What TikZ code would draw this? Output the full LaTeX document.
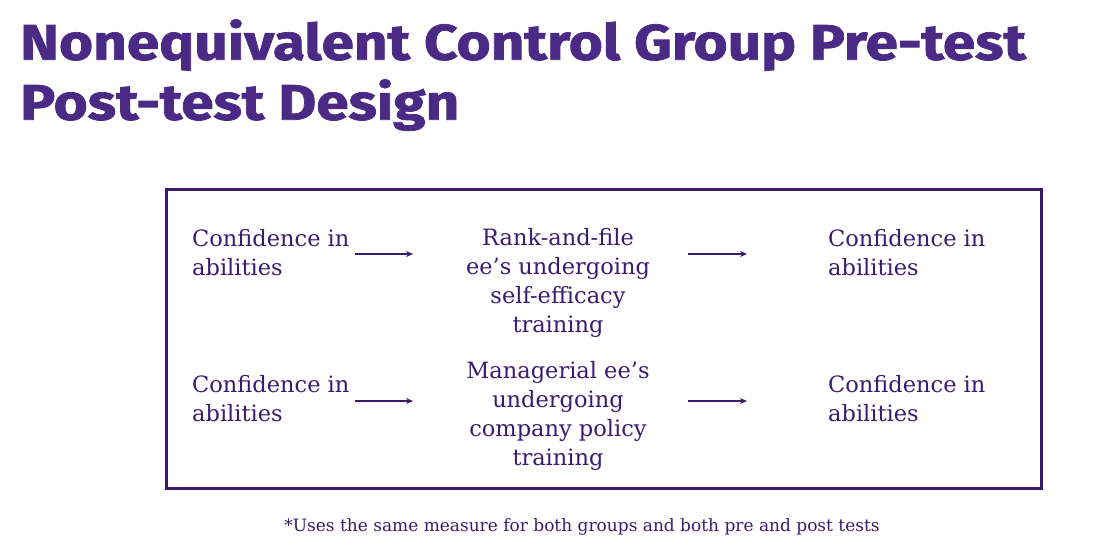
\documentclass[tikz,border=0pt]{standalone}
\usepackage{fontspec}
\usetikzlibrary{arrows.meta}
\setmainfont{DejaVu Serif}
\newfontfamily\titlefont[FakeStretch=1.17,FakeBold=1.5]{Fira Sans}
\definecolor{tpurple}{HTML}{4B2A85}
\definecolor{dpurple}{HTML}{3A1C6E}
\begin{document}
\begin{tikzpicture}[x=1pt,y=-1pt,
  title/.style={anchor=west,font=\titlefont\bfseries\fontsize{50}{50}\selectfont,text=tpurple,inner sep=0},
  body/.style={font=\fontsize{22.5}{29}\selectfont,text=dpurple,inner sep=0,align=#1},
  arr/.style={-{Stealth[length=7pt,width=6pt]},line width=1.5pt,draw=dpurple}]
\useasboundingbox (0,0) rectangle (1120,560);
\node[title] (t1) at (20,45) {Nonequivalent Control Group Pre-test};
\node[title] (t2) at (20,105) {Post-test Design};
\node[draw=dpurple,line width=3pt,minimum width=875,minimum height=299,anchor=north west,inner sep=0] (box) at (165,188) {};
\node[body=left,anchor=north west] (a1) at (192,229) {Confidence in\\abilities};
\node[body=center] (b1) at (558,283) {Rank-and-file\\ee’s undergoing\\self-efficacy\\training};
\node[body=left,anchor=north west] (c1) at (828,229) {Confidence in\\abilities};
\coordinate (p1) at (355,254); \coordinate (q1) at (413,254);
\coordinate (r1) at (688,254); \coordinate (s1) at (747,254);
\draw[arr] (p1) -- (q1); \draw[arr] (r1) -- (s1);
\node[body=left,anchor=north west] (a2) at (192,375) {Confidence in\\abilities};
\node[body=center] (b2) at (558,416) {Managerial ee’s\\undergoing\\company policy\\training};
\node[body=left,anchor=north west] (c2) at (828,375) {Confidence in\\abilities};
\coordinate (p2) at (355,401); \coordinate (q2) at (413,401);
\coordinate (r2) at (688,401); \coordinate (s2) at (747,401);
\draw[arr] (p2) -- (q2); \draw[arr] (r2) -- (s2);
\node[font=\fontsize{17}{20}\selectfont,text=dpurple] (fn) at (582,527) {*Uses the same measure for both groups and both pre and post tests};
\end{tikzpicture}
\end{document}
